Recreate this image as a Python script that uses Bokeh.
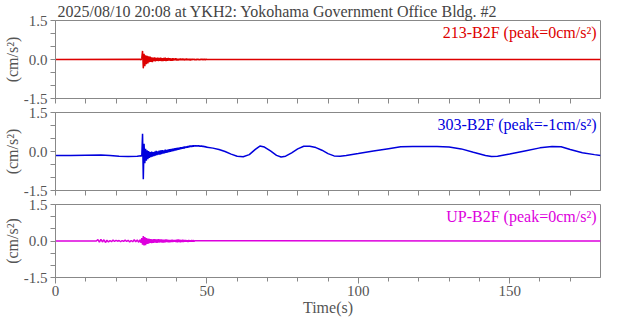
import numpy as np
from bokeh.plotting import figure
from bokeh.layouts import column
from bokeh.models import FixedTicker, Label, PrintfTickFormatter, Range1d
from bokeh.embed import file_html
from bokeh.resources import INLINE

TITLE = "2025/08/10 20:08 at YKH2: Yokohama Government Office Bldg. #2"
channel_names = ["213-B2F", "303-B2F", "UP-B2F"]
channel_peaks = ["0", "-1", "0"]
channel_colors = ["#dd0000", "#0000dd", "#dd00dd"]
x_ticks = [0, 50, 100, 150]
x_minor_ticks = [10, 20, 30, 40, 60, 70, 80, 90, 110, 120, 130, 140, 160, 170]
y_ticks = [-1.5, 0.0, 1.5]
y_minor_ticks = [-1.0, -0.5, 0.5, 1.0]
t_start, t_end = 0.0, 180.0

# --- 213-B2F (red): sampled burst, dt = 0.25 s starting 28.0 s ---
red_burst_t0, red_burst_dt = 28.0, 0.25
red_burst = [
    0.01, -0.02, 0.05, 0.33, -0.34, 0.22, -0.26, 0.16, -0.18, 0.14, -0.15, 0.12,
    -0.10, 0.11, -0.09, 0.08, -0.10, 0.07, -0.06, 0.08, -0.07, 0.06, -0.05, 0.07,
    -0.06, 0.06, -0.05, 0.07, -0.06, 0.05, -0.06, 0.06, -0.05, 0.07, -0.06, 0.05,
    -0.05, 0.06, -0.04, 0.05, -0.05, 0.04, -0.05, 0.05, -0.04, 0.04, -0.03, 0.05,
    -0.04, 0.03, -0.04, 0.03, -0.03, 0.04, -0.03, 0.03, -0.02, 0.03, -0.03, 0.02,
    -0.02, 0.03, -0.02, 0.02, -0.02, 0.02, -0.03, 0.02, -0.02, 0.02, -0.01, 0.02,
    -0.02, 0.01, -0.02, 0.02, -0.01, 0.01, -0.02, 0.01, -0.01, 0.02, -0.01, 0.01,
    -0.01, 0.01, -0.01, 0.01, 0.0,
]

# --- 303-B2F (blue) ---
blue_pre_t = [0.0, 5.0, 10.0, 15.0, 18.0, 21.0, 24.0, 27.0, 28.25]
blue_pre = [-0.15, -0.15, -0.14, -0.13, -0.15, -0.18, -0.19, -0.18, -0.16]
blue_burst_t0, blue_burst_dt = 28.5, 0.25
blue_burst = [
    -0.18, 0.68, -1.07, 0.30, -0.45, 0.10, -0.35, 0.05, -0.30, 0.02, -0.25, -0.02,
    -0.22, 0.00, -0.20, -0.02, -0.18, 0.00, -0.16, 0.02, -0.14, 0.00, -0.12, 0.03,
    -0.12, 0.04, -0.10, 0.05, -0.08, 0.04, -0.07, 0.07, -0.05, 0.06, -0.04, 0.08,
    -0.02, 0.09, -0.01, 0.10, 0.01, 0.11, 0.02, 0.12, 0.04, 0.13, 0.05, 0.14,
    0.07, 0.14, 0.08, 0.16, 0.10, 0.16, 0.11, 0.18, 0.12, 0.19, 0.14, 0.19,
    0.15, 0.21, 0.16, 0.22, 0.18, 0.22, 0.18, 0.23, 0.19, 0.23, 0.20, 0.23,
    0.20, 0.23, 0.21, 0.23, 0.20, 0.22, 0.20, 0.22, 0.19, 0.21, 0.18, 0.20,
    0.17, 0.18, 0.16,
]
blue_post_t = [52, 54, 56, 58, 60, 62, 64, 66, 67.5, 69, 71, 73, 74.5, 76, 78, 80,
               82, 84, 86, 88, 90, 92, 94, 96, 100, 105, 110, 114, 118, 122, 126,
               130, 134, 138, 142, 144, 146, 150, 155, 160, 164, 167, 170, 174, 178, 180]
blue_post = [0.13, 0.08, 0.00, -0.10, -0.18, -0.20, -0.12, 0.08, 0.21, 0.17, 0.02,
             -0.15, -0.21, -0.18, -0.05, 0.10, 0.20, 0.20, 0.15, 0.05, -0.08, -0.17,
             -0.18, -0.15, -0.08, 0.02, 0.11, 0.18, 0.19, 0.19, 0.19, 0.17, 0.10,
             -0.03, -0.15, -0.19, -0.18, -0.10, 0.02, 0.14, 0.19, 0.18, 0.08, -0.05,
             -0.12, -0.15]

# --- UP-B2F (magenta) ---
mag_early_t0, mag_early_dt = 13.5, 0.5
mag_early = [
    0.0, 0.06, -0.05, 0.07, -0.04, 0.05, -0.06, 0.03, -0.04, 0.02, -0.03, 0.04,
    -0.02, 0.03, -0.01, 0.02, -0.03, 0.02, -0.02, 0.04, -0.02, 0.03, -0.04, 0.02,
    -0.03, 0.05, -0.03, 0.04, -0.05,
]
mag_burst_t0, mag_burst_dt = 28.0, 0.25
mag_burst = [
    0.06, -0.08, 0.12, -0.15, 0.20, -0.18, 0.16, -0.17, 0.12, -0.12, 0.10, -0.11,
    0.09, -0.08, 0.08, -0.09, 0.07, -0.08, 0.08, -0.06, 0.07, -0.07, 0.06, -0.07,
    0.08, -0.06, 0.06, -0.05, 0.06, -0.06, 0.05, -0.06, 0.05, -0.05, 0.06, -0.04,
    0.05, -0.05, 0.04, -0.05, 0.04, -0.04, 0.05, -0.04, 0.04, -0.03, 0.04, -0.04,
    0.05, -0.05, 0.06, -0.04, 0.05, -0.05, 0.04, -0.04, 0.05, -0.04, 0.04, -0.03,
    0.04, -0.03, 0.03, -0.04, 0.04, -0.03, 0.03, -0.03, 0.04, -0.03, 0.03, -0.02,
    0.01,
]


def grid_times(t0, dt, n):
    return [t0 + dt * i for i in range(n)]


red_t = [t_start] + grid_times(red_burst_t0, red_burst_dt, len(red_burst)) + [t_end]
red_v = [0.0] + red_burst + [0.0]

blue_t = blue_pre_t + grid_times(blue_burst_t0, blue_burst_dt, len(blue_burst)) + blue_post_t
blue_v = blue_pre + blue_burst + blue_post

mag_t = ([t_start] + grid_times(mag_early_t0, mag_early_dt, len(mag_early))
         + grid_times(mag_burst_t0, mag_burst_dt, len(mag_burst)) + [t_end])
mag_v = [0.0] + mag_early + mag_burst + [0.0]

traces = [(red_t, red_v), (blue_t, blue_v), (mag_t, mag_v)]

FONT = "Liberation Serif"
GRAY_TXT = "#555555"
GRAY_LINE = "#888888"

FRAME_H = 78
tops = [0, 7, 7]
bottoms = [7, 7, 36]
title_h = 20
heights = [title_h + FRAME_H + bottoms[0], tops[1] + FRAME_H + bottoms[1],
           tops[2] + FRAME_H + bottoms[2]]

panels = []
for i in range(3):
    p = figure(width=602, height=heights[i], x_range=Range1d(t_start, t_end),
               y_range=Range1d(-1.5, 1.5), output_backend="svg", toolbar_location=None,
               min_border_left=48, min_border_right=2,
               min_border_top=tops[i], min_border_bottom=bottoms[i])
    if i == 0:
        p.title.text = TITLE
        p.title.text_font = FONT
        p.title.text_font_size = "16px"
        p.title.text_font_style = "normal"
        p.title.text_color = "#444444"
        p.title.standoff = 1
        p.title.offset = 2
    p.background_fill_color = "white"
    p.border_fill_color = "white"
    p.outline_line_color = GRAY_LINE
    p.grid.visible = False

    t, v = traces[i]
    p.line(t, v, line_color=channel_colors[i], line_width=1.5)

    p.yaxis.ticker = FixedTicker(ticks=y_ticks, minor_ticks=y_minor_ticks)
    p.yaxis.formatter = PrintfTickFormatter(format="%.1f")
    p.yaxis.axis_label = "(cm/s\u00b2)"
    p.yaxis.axis_label_text_font = FONT
    p.yaxis.axis_label_text_font_size = "16px"
    p.yaxis.axis_label_text_font_style = "normal"
    p.yaxis.axis_label_text_color = GRAY_TXT
    p.yaxis.axis_label_standoff = 0
    p.yaxis.major_label_text_font = FONT
    p.yaxis.major_label_text_font_size = "15px"
    p.yaxis.major_label_text_color = GRAY_TXT
    p.yaxis.major_label_standoff = 3
    p.yaxis.major_tick_out = 5
    p.yaxis.major_tick_in = 0
    p.yaxis.minor_tick_out = 5
    p.yaxis.minor_tick_in = 0

    p.xaxis.major_tick_in = 0
    p.xaxis.minor_tick_in = 0
    p.xaxis.minor_tick_out = 4
    if i < 2:
        # unlabelled time axis: every tick drawn as a plain tick mark
        p.xaxis.ticker = FixedTicker(ticks=[], minor_ticks=x_ticks + x_minor_ticks)
        p.xaxis.minor_tick_out = 5
    else:
        p.xaxis.ticker = FixedTicker(ticks=x_ticks, minor_ticks=x_minor_ticks)
        p.xaxis.major_tick_out = 6
        p.xaxis.major_label_text_font = FONT
        p.xaxis.major_label_text_font_size = "15px"
        p.xaxis.major_label_text_color = GRAY_TXT
        p.xaxis.major_label_standoff = 2
        p.xaxis.axis_label = "Time(s)"
        p.xaxis.axis_label_text_font = FONT
        p.xaxis.axis_label_text_font_size = "16px"
        p.xaxis.axis_label_text_font_style = "normal"
        p.xaxis.axis_label_text_color = GRAY_TXT
        p.xaxis.axis_label_standoff = 0

    for ax in (p.xaxis[0], p.yaxis[0]):
        ax.axis_line_color = GRAY_LINE
        ax.major_tick_line_color = GRAY_LINE
        ax.minor_tick_line_color = GRAY_LINE

    lbl = Label(x=t_end, y=1.5, x_offset=-4, y_offset=-3,
                text=f"{channel_names[i]} (peak={channel_peaks[i]}cm/s\u00b2)",
                text_align="right", text_baseline="top", text_font=FONT,
                text_font_size="16px", text_color=channel_colors[i])
    p.add_layout(lbl)
    panels.append(p)

layout = column(*panels, spacing=0)
open("out.html", "w").write(file_html(layout, INLINE))
